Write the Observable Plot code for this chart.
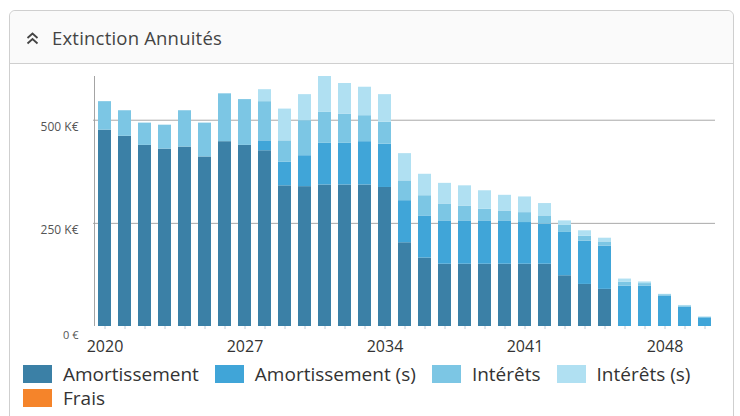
<!DOCTYPE html>
<html>
<head>
<meta charset="utf-8">
<script src="https://cdn.jsdelivr.net/npm/d3@7"></script>
<script src="https://cdn.jsdelivr.net/npm/@observablehq/plot@0.6"></script>
<style>
  html, body { margin: 0; padding: 0; background: #fff; width: 740px; height: 416px; overflow: hidden; }
  body { font-family: "Open Sans", sans-serif; position: relative; }
  #card { position: absolute; left: 9px; top: 10px; width: 725px; height: 440px;
          border: 1px solid #cfcfcf; border-radius: 6px; box-sizing: border-box; }
  #head { position: absolute; left: 0; top: 0; right: 0; height: 52px; background: #fafafa;
          border-bottom: 1px solid #cfcfcf; border-radius: 6px 6px 0 0; }
  #title { position: absolute; left: 42px; top: 14px; font-size: 18.5px; color: #444; letter-spacing: 0.2px; }
  #icon { position: absolute; left: 16px; top: 21px; }
  #chart { position: absolute; left: 0; top: 62px; }
  #leg { position: absolute; left: 23px; top: 362px; width: 700px; }
  #leg div, #leg span { font-family: "Open Sans", sans-serif !important; font-size: 19px !important;
          color: #333 !important; line-height: 24px; }
  #leg div { margin: 0 !important; min-height: 0 !important; }
  #leg span { margin-right: 16px !important; }
  #leg svg { margin-right: 11px !important; }
</style>
</head>
<body>
<div id="card">
  <div id="head">
    <svg id="icon" width="13" height="13" viewBox="0 0 13 13">
      <polyline points="1.5,6 6.5,1.5 11.5,6" fill="none" stroke="#444" stroke-width="1.8"/>
      <polyline points="1.5,11.5 6.5,7 11.5,11.5" fill="none" stroke="#444" stroke-width="1.8"/>
    </svg>
    <div id="title">Extinction Annuités</div>
  </div>
</div>
<div id="chart"></div>
<div id="leg"></div>
<script>
// Years (x categories)
const years = [2020,2021,2022,2023,2024,2025,2026,2027,2028,2029,2030,
               2031,2032,2033,2034,2035,2036,2037,2038,2039,2040,
               2041,2042,2043,2044,2045,2046,2047,2048,2049,2050];
// Series (values in K€)
const amortissement   = [476,461,439,430,435,411,448,439,426,341,339,
                         343,343,343,337,203,166,151,151,151,151,
                         151,151,123,102,90,0,0,0,0,0];
const amortissementS  = [0,0,0,0,0,0,0,0,24,57,75,
                         101,101,105,105,102,102,105,105,105,105,
                         101,97,105,105,105,98,98,74,47,21];
const interets        = [69,62,54,58,88,82,116,111,95,52,85,
                         75,71,63,53,48,49,41,36,28,24,
                         24,20,17,12,10,9,6,3,3,1.5];
const interetsS       = [0,0,0,0,0,0,0,0,29,77,63,
                         87,74,69,67,66,52,50,49,45,38,
                         38,30,11,13,9,8,4,1,1,0.5];
const frais           = years.map(() => 0);

const seriesNames  = ["Amortissement", "Amortissement (s)", "Intérêts", "Intérêts (s)", "Frais"];
const seriesValues = [amortissement, amortissementS, interets, interetsS, frais];
const seriesColors = ["#3b80a6", "#40a5d8", "#7cc6e4", "#b0e0f2", "#f5842a"];

const labelYears = [2020, 2027, 2034, 2041, 2048];
const yTicks = [250, 500];

const data = [];
seriesNames.forEach((s, i) => {
  years.forEach((yr, j) => data.push({year: yr, serie: s, value: seriesValues[i][j]}));
});

const chart = Plot.plot({
  width: 740,
  height: 300,
  marginLeft: 93,
  marginRight: 25,
  marginTop: 14,
  marginBottom: 36,
  style: {fontFamily: "Open Sans, sans-serif", background: "transparent", overflow: "visible"},
  x: {type: "band", domain: years, paddingInner: 0.35, paddingOuter: 0.2, axis: null, label: null},
  y: {domain: [0, 606], axis: null, label: null},
  color: {domain: seriesNames, range: seriesColors},
  marks: [
    Plot.gridY(yTicks, {stroke: "#9a9a9a", strokeOpacity: 0.85}),
    Plot.barY(data, {x: "year", y: "value", fill: "serie"}),
    Plot.ruleX([years[0]], {dx: -10.5, stroke: "#9a9a9a", strokeOpacity: 0.9}),
    Plot.axisX({ticks: years, tickSize: 3, stroke: "#b8c8d8", tickFormat: () => "", label: null}),
    Plot.axisX({ticks: labelYears, tickSize: 0, tickPadding: 14, fontSize: 16, fill: "#333",
                tickFormat: d => String(d), label: null}),
    Plot.axisY({ticks: yTicks, tickSize: 0, tickPadding: 15, dy: 7, fontSize: 12, fill: "#555",
                tickFormat: d => d + " K€", label: null}),
    Plot.axisY({ticks: [0], tickSize: 0, tickPadding: 15, dy: 9, fontSize: 11, fill: "#555",
                tickFormat: () => "0 €", label: null})
  ]
});
document.getElementById("chart").appendChild(chart);

const legend = Plot.legend({
  color: {domain: seriesNames, range: seriesColors},
  legend: "swatches",
  swatchWidth: 29,
  swatchHeight: 18
});
document.getElementById("leg").appendChild(legend);
</script>
</body>
</html>
